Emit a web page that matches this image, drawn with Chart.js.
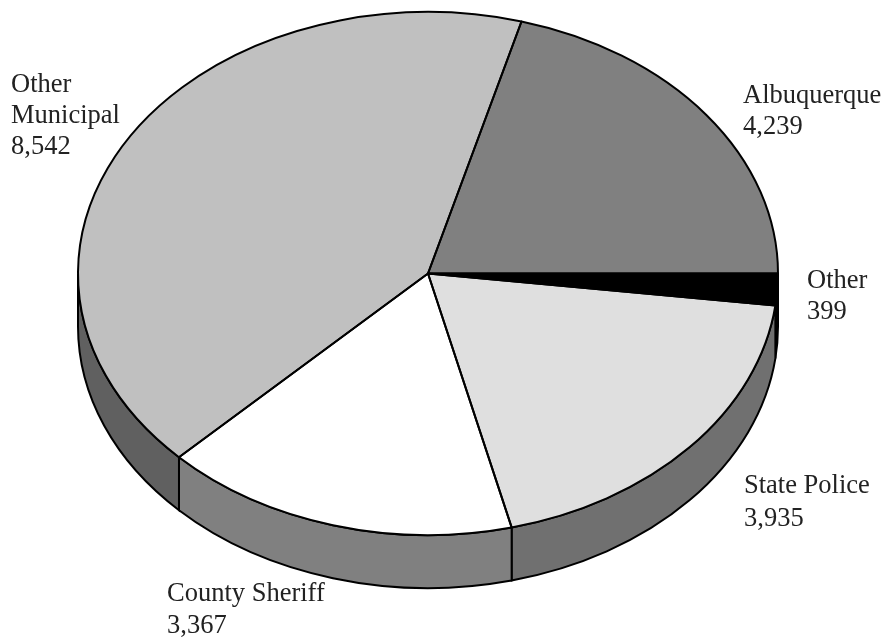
<!DOCTYPE html>
<html>
<head>
<meta charset="utf-8">
<title>Chart</title>
<script src="https://cdn.jsdelivr.net/npm/chart.js@4"></script>
<style>
    html, body { margin: 0; padding: 0; background: #fff; }
    #wrap { width: 885px; height: 638px; }
</style>
</head>
<body>
<div id="wrap"><canvas id="pie" width="885" height="638"></canvas></div>
<script>
// slices run clockwise from 3 o'clock
var categories = ['Other', 'State Police', 'County Sheriff', 'Other Municipal', 'Albuquerque'];
var values = [399, 3935, 3367, 8542, 4239];
var labelLines = [['Other'], ['State Police'], ['County Sheriff'], ['Other', 'Municipal'], ['Albuquerque']];

var topColors = ['#000000', '#dfdfdf', '#ffffff', '#c0c0c0', '#808080'];
var wallColors = ['#000000', '#707070', '#808080', '#606060', '#808080'];
var labelPos = [[807, 288], [744, 493], [167, 601], [11, 92], [743, 103]];
var labelGap = [31, 33, 32, 31, 31];

var CX = 428, CY = 273.5, RX = 350, RY = 261.5, DEPTH = 53;

var tilt = {
    id: 'tilt',
    beforeDatasetsDraw: function (chart) {
        var ctx = chart.ctx;
        var arcs = chart.getDatasetMeta(0).data;
        var sx = RX / arcs[0].outerRadius;
        // side wall first, only the front half of the disc shows
        ctx.save();
        ctx.lineWidth = 2;
        ctx.strokeStyle = '#000';
        arcs.forEach(function (arc, i) {
            var a1 = arc.startAngle, a2 = Math.min(arc.endAngle, Math.PI);
            if (a1 >= Math.PI) return;
            ctx.beginPath();
            ctx.ellipse(arc.x, arc.y, arc.outerRadius * sx, arc.outerRadius, 0, a1, a2);
            ctx.ellipse(arc.x, arc.y + DEPTH, arc.outerRadius * sx, arc.outerRadius, 0, a2, a1, true);
            ctx.closePath();
            ctx.fillStyle = wallColors[i];
            ctx.fill();
            ctx.stroke();
        });
        ctx.restore();
        // stretch the circle sideways into the ellipse
        ctx.save();
        ctx.translate(arcs[0].x, 0);
        ctx.scale(sx, 1);
        ctx.translate(-arcs[0].x, 0);
    },
    afterDatasetsDraw: function (chart) {
        var ctx = chart.ctx;
        ctx.restore();
        var arcs = chart.getDatasetMeta(0).data;
        var sx = RX / arcs[0].outerRadius;
        ctx.save();
        ctx.lineWidth = 2;
        ctx.strokeStyle = '#000';
        ctx.lineJoin = 'round';
        arcs.forEach(function (arc) {
            ctx.beginPath();
            ctx.moveTo(arc.x, arc.y);
            ctx.ellipse(arc.x, arc.y, arc.outerRadius * sx, arc.outerRadius, 0, arc.startAngle, arc.endAngle);
            ctx.closePath();
            ctx.stroke();
        });
        // labels
        ctx.fillStyle = '#222';
        ctx.font = '26.5px "Liberation Serif"';
        ctx.textAlign = 'left';
        ctx.textBaseline = 'alphabetic';
        labelLines.forEach(function (lines, i) {
            var x = labelPos[i][0], y = labelPos[i][1];
            lines.forEach(function (t, n) {
                ctx.fillText(t, x, y + n * labelGap[i]);
            });
            ctx.fillText(values[i].toLocaleString('en-US'), x, y + lines.length * labelGap[i]);
        });
        ctx.restore();
    }
};

new Chart(document.getElementById('pie'), {
    type: 'pie',
    data: {
        labels: categories,
        datasets: [{
            data: values,
            backgroundColor: topColors,
            borderWidth: 0
        }]
    },
    options: {
        responsive: false,
        animation: false,
        rotation: 90,
        // chart area is a square of side 2*RY around the centre
        layout: {
            padding: {
                left: CX - RY,
                right: 885 - CX - RY,
                top: CY - RY,
                bottom: 638 - CY - RY
            }
        },
        plugins: {
            legend: { display: false },
            tooltip: { enabled: false }
        }
    },
    plugins: [tilt]
});
</script>
</body>
</html>
